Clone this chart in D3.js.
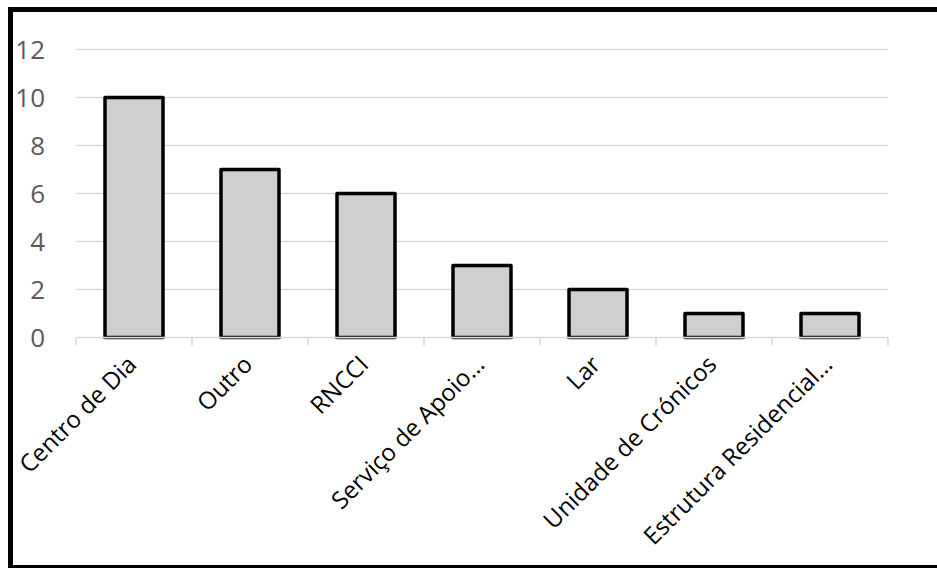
<!DOCTYPE html>
<html>
<head>
<meta charset="utf-8">
<script src="https://cdn.jsdelivr.net/npm/d3@7"></script>
<style>
  html, body { margin: 0; padding: 0; background: #fff; }
  svg { display: block; }
</style>
</head>
<body>
<svg id="chart" width="937" height="568"></svg>
<script>
// Categories and counts
const categories = ["Centro de Dia", "Outro", "RNCCI", "Serviço de Apoio…", "Lar", "Unidade de Crónicos", "Estrutura Residencial…"];
const values = [10, 7, 6, 3, 2, 1, 1];
const yTicks = [0, 2, 4, 6, 8, 10, 12];

const W = 937, H = 568;
const plot = { left: 76, right: 888, top: 49.5, bottom: 337.5 };

const svg = d3.select("#chart");

// Outer frame
svg.append("rect")
  .attr("x", 10.5).attr("y", 9.5)
  .attr("width", 940).attr("height", 558)
  .attr("fill", "none").attr("stroke", "#000").attr("stroke-width", 5);

const x = d3.scaleBand()
  .domain(categories)
  .range([plot.left, plot.right])
  .paddingInner(0.5)
  .paddingOuter(0.25);

const y = d3.scaleLinear()
  .domain([0, 12])
  .range([plot.bottom, plot.top]);

// Horizontal gridlines
svg.append("g")
  .selectAll("line")
  .data(yTicks.filter(d => d > 0))
  .join("line")
  .attr("x1", plot.left).attr("x2", plot.right)
  .attr("y1", d => y(d)).attr("y2", d => y(d))
  .attr("stroke", "#d9d9d9").attr("stroke-width", 1.5);

// Y axis labels
const yAxis = d3.axisLeft(y).tickValues(yTicks).tickSize(0).tickPadding(0);
const gy = svg.append("g").attr("transform", `translate(45,0)`).call(yAxis);
gy.select(".domain").remove();
gy.selectAll("text")
  .attr("fill", "#595959")
  .style("font-family", "'Open Sans', sans-serif")
  .style("font-size", "26px")
  .attr("dy", "0.36em");

// Bars
const bars = svg.append("g");
bars.selectAll("rect")
  .data(values)
  .join("rect")
  .attr("x", (d, i) => x(categories[i]))
  .attr("y", d => y(d))
  .attr("width", x.bandwidth())
  .attr("height", d => y(0) - y(d))
  .attr("fill", "#d0cecf")
  .attr("stroke", "#000")
  .attr("stroke-width", 3.5)
  .attr("stroke-linejoin", "round");

// Category axis with ticks at band boundaries
const step = x.step();
const boundaries = d3.range(categories.length + 1).map(i => plot.left + i * step);
const gx = svg.append("g");
gx.append("line")
  .attr("x1", plot.left).attr("x2", plot.right)
  .attr("y1", y(0)).attr("y2", y(0))
  .attr("stroke", "#d9d9d9").attr("stroke-width", 1.5);
gx.selectAll("line.tick")
  .data(boundaries)
  .join("line")
  .attr("class", "tick")
  .attr("x1", d => d).attr("x2", d => d)
  .attr("y1", y(0)).attr("y2", y(0) + 8)
  .attr("stroke", "#d9d9d9").attr("stroke-width", 1.5);

// Bar base line
bars.selectAll("line")
  .data(values)
  .join("line")
  .attr("x1", (d, i) => x(categories[i]) - 1.5)
  .attr("x2", (d, i) => x(categories[i]) + x.bandwidth() + 1.5)
  .attr("y1", y(0) + 0.5).attr("y2", y(0) + 0.5)
  .attr("stroke", "#404040").attr("stroke-width", 2);

// Rotated category labels
gx.selectAll("text")
  .data(categories)
  .join("text")
  .attr("transform", d => `translate(${x(d) + x.bandwidth() / 2 + 4},366) rotate(-45)`)
  .attr("text-anchor", "end")
  .attr("fill", "#000")
  .style("font-family", "'Open Sans', sans-serif")
  .style("font-size", "24px")
  .text(d => d);
</script>
</body>
</html>
